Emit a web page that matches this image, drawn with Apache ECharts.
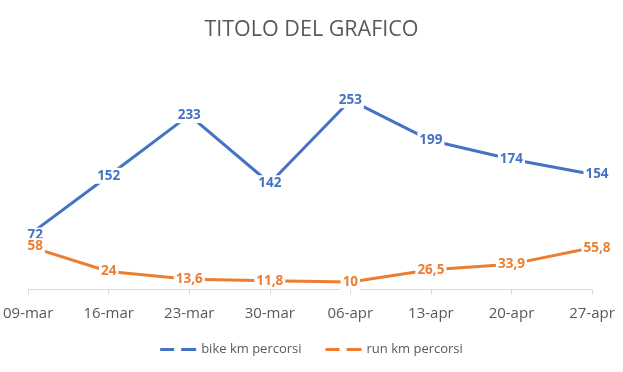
<!DOCTYPE html>
<html>
<head>
<meta charset="utf-8">
<script src="https://cdn.jsdelivr.net/npm/echarts@6/dist/echarts.min.js"></script>
<style>
html,body{margin:0;padding:0;background:#fff;}
#chart{width:623px;height:372px;}
</style>
</head>
<body>
<div id="chart"></div>
<script>
const titleText = 'TITOLO DEL GRAFICO';
const categories = ['09-mar','16-mar','23-mar','30-mar','06-apr','13-apr','20-apr','27-apr'];
const bikeName = 'bike km percorsi';
const runName = 'run km percorsi';
const bikeValues = [72, 152, 233, 142, 253, 199, 174, 154];
const runValues = [58, 24, 13.6, 11.8, 10, 26.5, 33.9, 55.8];

const fmt = v => String(v).replace('.', ',');
const font = '"Open Sans", "DejaVu Sans", sans-serif';

function withEdgeOffsets(vals) {
  return vals.map((v, i) => {
    if (i === 0) return { value: v, label: { offset: [7, 0] } };
    if (i === vals.length - 1) return { value: v, label: { offset: [5, 0] } };
    return v;
  });
}

function makeSeries(name, vals, color) {
  return {
    name: name,
    type: 'line',
    data: withEdgeOffsets(vals),
    symbol: 'circle',
    symbolSize: 1,
    showSymbol: true,
    itemStyle: { color: color },
    lineStyle: { color: color, width: 3 },
    label: {
      show: true,
      position: 'inside',
      color: color,
      fontFamily: font,
      fontWeight: 'bold',
      fontSize: 13.5,
      backgroundColor: '#ffffff',
      padding: [1, 2],
      formatter: p => fmt(p.value)
    },
    emphasis: { disabled: true },
    animation: false
  };
}

const chart = echarts.init(document.getElementById('chart'), null, { renderer: 'canvas' });
chart.setOption({
  backgroundColor: '#ffffff',
  animation: false,
  title: {
    text: titleText,
    left: 'center',
    top: 14,
    textStyle: { fontFamily: font, fontSize: 21.5, fontWeight: 'normal', color: '#595959' }
  },
  legend: {
    data: [bikeName, runName],
    left: 'center',
    top: 338,
    itemWidth: 36,
    itemHeight: 3,
    itemGap: 24,
    icon: 'path://M0,0H14V3H0Z M21,0H36V3H21Z',
    textStyle: { fontFamily: font, fontSize: 13, color: '#595959' }
  },
  grid: { left: 18, right: 31, top: 65, bottom: 82.5 },
  xAxis: {
    type: 'category',
    data: categories,
    boundaryGap: false,
    axisLine: { lineStyle: { color: '#d9d9d9', width: 1 } },
    axisTick: { show: true, length: 5, lineStyle: { color: '#d9d9d9' } },
    axisLabel: { color: '#595959', fontFamily: font, fontSize: 15, margin: 17 },
    splitLine: { show: false }
  },
  yAxis: {
    type: 'value',
    min: 0,
    max: 300,
    interval: 50,
    show: false,
    splitLine: { show: false }
  },
  series: [
    makeSeries(bikeName, bikeValues, '#4472C4'),
    makeSeries(runName, runValues, '#ED7D31')
  ]
});
</script>
</body>
</html>
